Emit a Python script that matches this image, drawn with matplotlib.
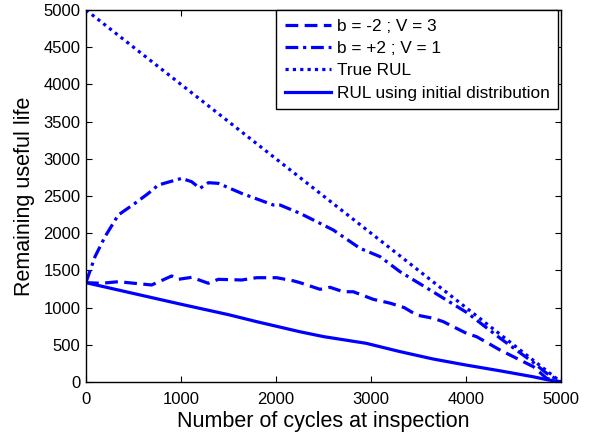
import matplotlib
matplotlib.use("Agg")
import matplotlib.pyplot as plt

plt.rcParams['font.family'] = ['Liberation Sans', 'DejaVu Sans']

# True RUL
true_x = [0, 5000]
true_y = [5000, 0]

# RUL using initial distribution
init_x = [0, 500, 990, 1500, 1800, 2250, 2500, 2950, 3300, 3650, 4000, 4360, 4700, 4870, 5000]
init_y = [1335, 1190, 1048, 905, 810, 676, 610, 520, 410, 310, 228, 150, 72, 27, 0]

# b = -2 ; V = 3
neg_x = [0, 165, 340, 691, 902, 972, 1112, 1288, 1393, 1639, 1797, 2007, 2182, 2253,
         2463, 2568, 2709, 2814, 3024, 3200, 3350, 3481, 3656, 3761, 4007, 4112, 4358, 4709, 4849, 5000]
neg_y = [1335, 1327, 1348, 1304, 1425, 1380, 1407, 1327, 1380, 1371, 1402, 1402, 1360, 1335,
         1246, 1273, 1213, 1213, 1111, 1060, 1000, 900, 856, 811, 653, 609, 430, 206, 49, 0]

# b = +2 ; V = 1
pos_x = [0, 95, 200, 340, 516, 656, 761, 1007, 1112, 1200, 1288, 1393, 1639, 1972, 2042, 2253,
         2463, 2603, 2884, 3095, 3305, 3656, 4007, 4358, 4709, 4849, 5000]
pos_y = [1340, 1685, 1953, 2245, 2402, 2535, 2648, 2737, 2692, 2603, 2679, 2670, 2535, 2379, 2379, 2267,
         2133, 2043, 1797, 1685, 1483, 1210, 935, 590, 262, 117, 0]

fig = plt.figure(figsize=(5.91, 4.33), dpi=100)
ax = fig.add_axes([86/591, 1 - 382/433, 475/591, 372/433])

blue = (0, 0, 1)
lw = 2.3
ax.plot(neg_x, neg_y, color=blue, lw=lw, dashes=(4, 2), label='b = -2 ; V = 3')
ax.plot(pos_x, pos_y, color=blue, lw=lw, dashes=(4, 1.5, 1, 1.5), label='b = +2 ; V = 1')
ax.plot(true_x, true_y, color=blue, lw=lw, dashes=(1, 1.3), label='True RUL')
ax.plot(init_x, init_y, color=blue, lw=lw, linestyle='-', label='RUL using initial distribution')

ax.set_xlim(0, 5000)
ax.set_ylim(0, 5000)
ax.set_xticks(range(0, 5001, 1000))
ax.set_yticks(range(0, 5001, 500))
ax.tick_params(direction='in', top=True, right=True, length=4, width=0.8, labelsize=12)
ax.tick_params(axis='x', pad=7)
ax.tick_params(axis='y', pad=4)
for s in ax.spines.values():
    s.set_linewidth(1.0)

ax.set_xlabel('Number of cycles at inspection', fontsize=15.5, labelpad=3)
ax.set_ylabel('Remaining useful life', fontsize=15.5, labelpad=6)

leg = ax.legend(loc='upper right', fontsize=12.4, frameon=True, fancybox=False,
                edgecolor='black', framealpha=1, borderaxespad=0.0,
                bbox_to_anchor=(1 - 3/475, 1.0),
                handlelength=2.7, handletextpad=0.3, labelspacing=0.42, borderpad=0.5)
leg.get_frame().set_linewidth(1.0)

fig.savefig('out.png', dpi=100)
